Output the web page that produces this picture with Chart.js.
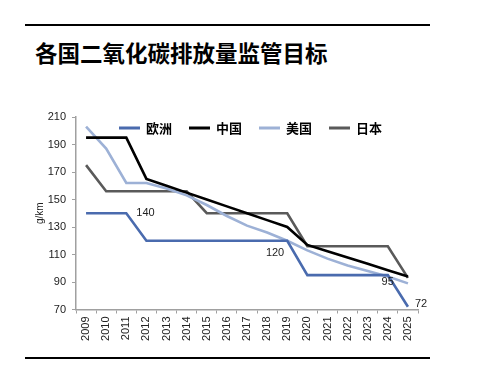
<!DOCTYPE html>
<html><head><meta charset="utf-8">
<script src="https://cdn.jsdelivr.net/npm/chart.js@4.4.0/dist/chart.umd.min.js"></script>
<style>
html,body{margin:0;padding:0;background:#fff;}
#wrap{position:relative;width:481px;height:383px;overflow:hidden;}
.rule{position:absolute;left:25px;width:405px;height:1.5px;background:#000;}
#title{position:absolute;left:35px;top:37px;font:bold 22.5px "Noto Sans CJK SC";color:#000;white-space:nowrap;line-height:30px;}
canvas{position:absolute;left:0;top:0;}
</style></head><body>
<div id="wrap">
<div class="rule" style="top:24px"></div>
<div id="title">各国二氧化碳排放量监管目标</div>
<canvas id="c" width="481" height="383"></canvas>
<div class="rule" style="top:357px"></div>
</div>
<script>
const years = ['2009','2010','2011','2012','2013','2014','2015','2016','2017','2018','2019','2020','2021','2022','2023','2024','2025'];
const europe = [140,140,140,120,120,120,120,120,120,120,120,95,95,95,95,95,72];
const china  = [195,195,195,165,160,155,150,145,140,135,130,117,112.4,107.8,103.2,98.6,94];
const usa    = [203,187,162,162,158,153,146,138,131,126,120,113,107,102,98,94,89];
const japan  = [175,156,156,156,156,156,140,140,140,140,140,116,116,116,116,116,93];
const seriesNames = ['欧洲','中国','美国','日本'];
const yTicks = [70,90,110,130,150,170,190,210];
const yTitle = 'g/km';
// data labels: [series index, point index, text]
const pointLabels = [[0,2,'140'],[0,10,'120'],[0,15,'95'],[0,16,'72']];

const colors = ['#4A6BAE','#000000','#9DB1D6','#5A5A5A'];
const labelPlacement = [{dx:10,dy:0,align:'left'},{dx:-3,dy:12,align:'right'},{dx:6,dy:7,align:'right'},{dx:7,dy:-3,align:'left'}];

const labelPlugin = {
  id:'pointLabels',
  afterDatasetsDraw(chart){
    const ctx = chart.ctx;
    ctx.save();
    ctx.font = '11px "Liberation Sans"';
    ctx.fillStyle = '#222';
    ctx.textBaseline = 'middle';
    pointLabels.forEach((pl,i)=>{
      const el = chart.getDatasetMeta(pl[0]).data[pl[1]];
      const p = labelPlacement[i];
      ctx.textAlign = p.align;
      ctx.fillText(pl[2], el.x + p.dx, el.y + p.dy);
    });
    ctx.restore();
  }
};
// legend drawn in one row inside the plot area
const rowLegend = {
  id:'rowLegend',
  afterDraw(chart){
    const ctx = chart.ctx;
    ctx.save();
    ctx.font = 'bold 13px "Noto Sans CJK SC"';
    ctx.textBaseline = 'middle';
    ctx.textAlign = 'left';
    let x = 119; const y = 128;
    chart.data.datasets.forEach(ds=>{
      ctx.fillStyle = ds.borderColor;
      ctx.fillRect(x, y-1.5, 21, 3);
      x += 27;
      ctx.fillStyle = '#000';
      ctx.fillText(ds.label, x, y);
      x += ctx.measureText(ds.label).width + 17;
    });
    ctx.restore();
  }
};

const datasets = [europe,china,usa,japan].map((d,i)=>({
  label: seriesNames[i], data: d, borderColor: colors[i], backgroundColor: colors[i],
  borderWidth: 2.6, pointRadius: 0, tension: 0, fill:false, order: i
}));

new Chart(document.getElementById('c'), {
  type:'line',
  data:{ labels: years, datasets },
  plugins:[labelPlugin, rowLegend],
  options:{
    responsive:false, animation:false,
    layout:{ padding:{ left:30, top:117, right:63, bottom:0 } },
    plugins:{ tooltip:{enabled:false}, legend:{ display:false } },
    scales:{
      x:{
        type:'category', offset:true,
        grid:{ offset:true, drawOnChartArea:false, drawTicks:true, tickLength:4, color:'#A0A0A0' },
        border:{ color:'#A0A0A0', width:1.5 },
        ticks:{ minRotation:90, maxRotation:90, autoSkip:false, padding:3, color:'#222',
          font:{ family:'"Liberation Sans"', size:11 } },
        afterFit(s){ s.height = 73.5; }
      },
      y:{
        min:70, max:210,
        afterBuildTicks(s){ s.ticks = yTicks.map(v=>({value:v})); },
        grid:{ drawOnChartArea:false, drawTicks:true, tickLength:4, color:'#A0A0A0' },
        border:{ color:'#A0A0A0', width:1.5 },
        ticks:{ padding:6, color:'#222', font:{ family:'"Liberation Sans"', size:11 } },
        title:{ display:true, text:yTitle, color:'#222', padding:{top:4,bottom:0},
          font:{ family:'"Liberation Sans"', size:10 } },
        afterFit(s){ s.width = 46; }
      }
    }
  }
});
</script>
</body></html>
